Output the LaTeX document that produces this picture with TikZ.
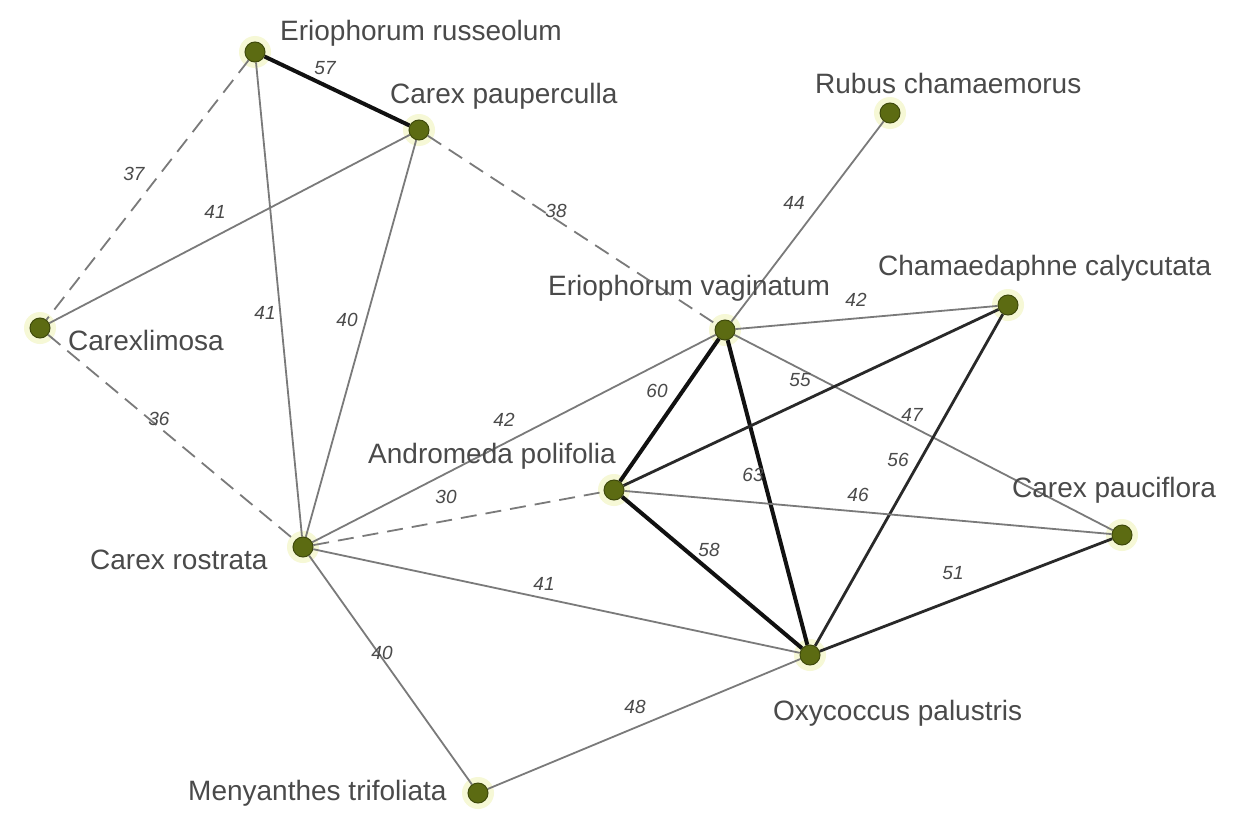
\documentclass[tikz,border=0pt]{standalone}
\usepackage{fontspec}
\setmainfont{Liberation Sans}
\pgfdeclarelayer{background}
\pgfdeclarelayer{halo}
\pgfsetlayers{halo,background,main}
\definecolor{olivefill}{HTML}{5C6B12}
\definecolor{olivedraw}{HTML}{3F4A0C}
\definecolor{halocol}{HTML}{F6F8D6}
\definecolor{edgegray}{HTML}{7A7A7A}
\definecolor{txtgray}{HTML}{4A4A4A}
\definecolor{strongcol}{HTML}{111111}
\begin{document}
\begin{tikzpicture}[x=1pt,y=-1pt,
  vert/.style={circle, fill=olivefill, draw=olivedraw, line width=1pt, minimum size=20pt, inner sep=0pt},
  lbl/.style={font=\fontsize{28}{32}\selectfont, text=txtgray, anchor=west, inner sep=0pt},
  wt/.style={font=\itshape\fontsize{19}{22}\selectfont, text=txtgray, inner sep=1pt},
  plain/.style={draw=edgegray, line width=1.8pt},
  strong/.style={draw=strongcol, line width=4pt},
  medium/.style={draw=strongcol!90, line width=2.8pt},
  dashedge/.style={draw=edgegray, line width=1.8pt, dash pattern=on 16pt off 9pt}
]
\useasboundingbox (0,0) rectangle (1236,816);

% vertices
\node[vert] (ER)  at (255,52)  {};
\node[vert] (CP)  at (419,130) {};
\node[vert] (RC)  at (890,113) {};
\node[vert] (CL)  at (40,328)  {};
\node[vert] (EV)  at (725,330) {};
\node[vert] (CC)  at (1008,305) {};
\node[vert] (AP)  at (614,490) {};
\node[vert] (CPa) at (1122,535) {};
\node[vert] (CR)  at (303,547) {};
\node[vert] (OP)  at (810,655) {};
\node[vert] (MT)  at (478,793) {};

\begin{pgfonlayer}{halo}
\fill[white] (0,0) rectangle (1236,816);
\foreach \n in {ER,CP,RC,CL,EV,CC,AP,CPa,CR,OP,MT}
  \fill[halocol] (\n) circle (16pt);
\end{pgfonlayer}

% vertex labels
\node[lbl] (lER)  at (280,33)  {Eriophorum russeolum};
\node[lbl] (lCP)  at (390,96)  {Carex pauperculla};
\node[lbl] (lRC)  at (815,83)  {Rubus chamaemorus};
\node[lbl] (lCL)  at (68,340)  {Carexlimosa};
\node[lbl] (lEV)  at (548,288) {Eriophorum vaginatum};
\node[lbl] (lCC)  at (878,268) {Chamaedaphne calycutata};
\node[lbl] (lAP)  at (368,456) {Andromeda polifolia};
\node[lbl] (lCPa) at (1012,490) {Carex pauciflora};
\node[lbl] (lCR)  at (90,560)  {Carex rostrata};
\node[lbl] (lOP)  at (773,713) {Oxycoccus palustris};
\node[lbl] (lMT)  at (188,793) {Menyanthes trifoliata};

% edges
\begin{pgfonlayer}{background}
\draw[strong]   (ER) -- (CP);
\draw[dashedge] (ER) -- (CL);
\draw[plain]    (CP) -- (CL);
\draw[plain]    (ER) -- (CR);
\draw[plain]    (CP) -- (CR);
\draw[dashedge] (CP) -- (EV);
\draw[plain]    (RC) -- (EV);
\draw[plain]    (EV) -- (CC);
\draw[dashedge] (CL) -- (CR);
\draw[plain]    (CR) -- (EV);
\draw[strong]   (EV) -- (AP);
\draw[strong]   (EV) -- (OP);
\draw[plain]    (EV) -- (CPa);
\draw[medium]   (AP) -- (CC);
\draw[medium]   (CC) -- (OP);
\draw[plain]    (AP) -- (CPa);
\draw[strong]   (AP) -- (OP);
\draw[dashedge] (CR) -- (AP);
\draw[plain]    (CR) -- (OP);
\draw[plain]    (CR) -- (MT);
\draw[plain]    (MT) -- (OP);
\draw[medium]   (OP) -- (CPa);
\end{pgfonlayer}

% edge weights
\node[wt] (w1)  at (325,68)  {57};
\node[wt] (w2)  at (134,174) {37};
\node[wt] (w3)  at (215,212) {41};
\node[wt] (w4)  at (265,313) {41};
\node[wt] (w5)  at (347,320) {40};
\node[wt] (w6)  at (556,211) {38};
\node[wt] (w7)  at (794,203) {44};
\node[wt] (w8)  at (856,300) {42};
\node[wt] (w9)  at (159,419) {36};
\node[wt] (w10) at (504,420) {42};
\node[wt] (w11) at (657,391) {60};
\node[wt] (w12) at (753,475) {63};
\node[wt] (w13) at (800,380) {55};
\node[wt] (w14) at (912,415) {47};
\node[wt] (w15) at (898,460) {56};
\node[wt] (w16) at (858,495) {46};
\node[wt] (w17) at (709,550) {58};
\node[wt] (w18) at (446,497) {30};
\node[wt] (w19) at (544,584) {41};
\node[wt] (w20) at (382,653) {40};
\node[wt] (w21) at (635,707) {48};
\node[wt] (w22) at (953,573) {51};
\end{tikzpicture}
\end{document}
